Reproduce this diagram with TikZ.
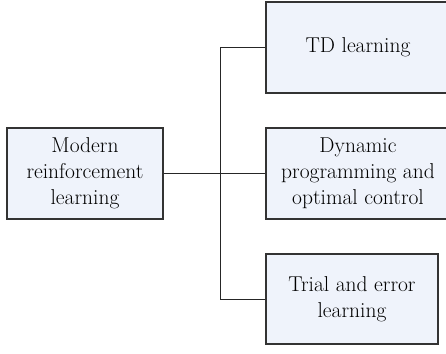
\documentclass[tikz,border=0pt]{standalone}
\definecolor{boxfill}{HTML}{EFF3FB}
\definecolor{boxline}{HTML}{333333}
\begin{document}
\begin{tikzpicture}[x=1pt,y=1pt,
  box/.style={draw=boxline, line width=1.2pt, fill=boxfill, align=center,
    inner sep=0pt, font=\fontsize{21.5}{26}\selectfont},
  conn/.style={draw=black!85, line width=1pt}]
\useasboundingbox (0,0) rectangle (446,353);
\node[box, minimum width=156, minimum height=91] (root) at (85,179.5) {Modern\\reinforcement\\learning};
\node[box, minimum width=184, minimum height=91] (td) at (358,305.5) {TD learning};
\node[box, minimum width=184, minimum height=91] (dp) at (358,179.5) {Dynamic\\programming and\\optimal control};
\node[box, minimum width=172, minimum height=90] (te) at (352,54) {Trial and error\\learning};
\coordinate (j) at (220,179.5);
\draw[conn] (root.east) -- (dp.west);
\draw[conn] (td.west) -- (td.west -| j) -- (te.west -| j) -- (te.west);
\end{tikzpicture}
\end{document}
